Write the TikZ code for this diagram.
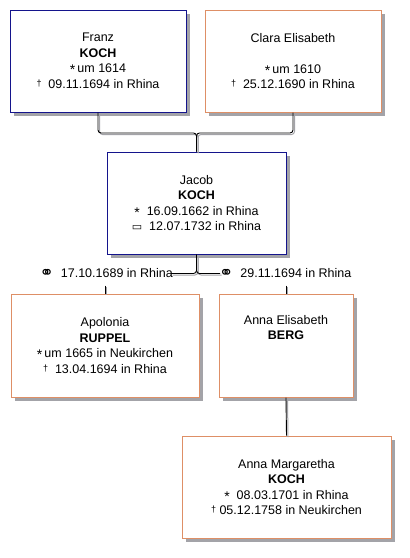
\documentclass[tikz,border=0pt]{standalone}
\usepackage{fontspec}
\setmainfont{Liberation Sans}
\newfontfamily\symfont{DejaVu Sans}
\definecolor{maleblue}{rgb}{0.08,0.08,0.55}
\definecolor{femorange}{rgb}{0.87,0.56,0.40}
\definecolor{shgr}{rgb}{0.64,0.64,0.66}
\newcommand{\birth}{\raisebox{-0.3ex}{\fontsize{14}{14}\selectfont *}}
\newcommand{\death}{\raisebox{0.3ex}{\fontsize{9}{9}\selectfont †}}
\newcommand{\burial}{{\symfont\fontsize{11}{11}\selectfont ▭}}
\newcommand{\marr}{\raisebox{-0.1ex}{\symfont\fontsize{17}{17}\selectfont ⚭}}
\newcommand{\twoline}[1]{%
  \begin{scope}[transform canvas={xshift=1.5pt,yshift=-1.5pt}]
    \draw[shline] #1;
  \end{scope}
  \draw[mainline] #1;}
\tikzset{
  person/.style={draw, line width=1pt, fill=white, align=center, inner sep=0pt,
    font=\fontsize{12.5}{15.5}\selectfont},
  male/.style={person, draw=maleblue},
  female/.style={person, draw=femorange},
  shadownode/.style={draw=shgr, fill=shgr, line width=2pt, inner sep=0pt},
  mainline/.style={draw=black, line width=0.9pt, rounded corners=3pt},
  shline/.style={draw=shgr, line width=1pt, rounded corners=3pt},
  marrlabel/.style={font=\fontsize{12.5}{15.5}\selectfont, inner sep=0pt}
}
\begin{document}
\begin{tikzpicture}[x=1pt,y=-1pt]
\useasboundingbox (0,0) rectangle (410,558);
% shadows
\node[shadownode, minimum width=174pt, minimum height=100pt] (franzsh) at (102,65) {};
\node[shadownode, minimum width=174pt, minimum height=100pt] (clarash) at (297,65) {};
\node[shadownode, minimum width=177pt, minimum height=100pt] (jacobsh) at (200.5,207) {};
\node[shadownode, minimum width=186pt, minimum height=101pt] (apoloniash) at (109,349.5) {};
\node[shadownode, minimum width=132pt, minimum height=101pt] (annaesh) at (290,349.5) {};
\node[shadownode, minimum width=207pt, minimum height=100pt] (annamsh) at (290.5,491) {};
% persons
\node[male, minimum width=176pt, minimum height=102pt] (franz) at (98,61)
  {Franz\\\textbf{KOCH}\\\birth\,um 1614\\\death\ \ 09.11.1694 in Rhina};
\node[female, minimum width=176pt, minimum height=102pt] (clara) at (293,61)
  {Clara Elisabeth\\\strut\\\birth\,um 1610\\\death\ \ 25.12.1690 in Rhina};
\node[male, minimum width=179pt, minimum height=102pt] (jacob) at (196.5,203)
  {Jacob\\\textbf{KOCH}\\\birth\ \ 16.09.1662 in Rhina\\\burial\ \ 12.07.1732 in Rhina};
\node[female, minimum width=188pt, minimum height=103pt] (apolonia) at (105,345.5)
  {Apolonia\\\textbf{RUPPEL}\\\birth\,um 1665 in Neukirchen\\\death\ \ 13.04.1694 in Rhina};
\node[female, minimum width=134pt, minimum height=103pt] (annae) at (286,345.5)
  {Anna Elisabeth\\\textbf{BERG}\\\strut\\\strut};
\node[female, minimum width=209pt, minimum height=102pt] (annam) at (286.5,487)
  {Anna Margaretha\\\textbf{KOCH}\\\birth\ \ 08.03.1701 in Rhina\\\death\ 05.12.1758 in Neukirchen};
\node[marrlabel, anchor=east] (m1) at (173,273.5) {\marr\ \ 17.10.1689 in Rhina};
\node[marrlabel, anchor=west] (m2) at (219,273.5) {\marr\ \ 29.11.1694 in Rhina};
\coordinate (topjoin) at (196.5,133);
\coordinate (botjoin) at (196.5,273.5);
% parents to Jacob
\twoline{(franz.south) -- (franz.south |- topjoin) -- (topjoin) -- (jacob.north)}
\twoline{(clara.south) -- (clara.south |- topjoin) -- (topjoin) -- (jacob.north)}
% Jacob to marriages
\twoline{(jacob.south) -- (botjoin) -- ([xshift=-2pt]m1.east)}
\twoline{(jacob.south) -- (botjoin) -- ([xshift=1pt]m2.west)}
% marriages to spouses
\twoline{([yshift=8pt]apolonia.north) -- (apolonia.north)}
\twoline{([yshift=8pt]annae.north) -- (annae.north)}
% child
\twoline{(annae.south) -- (annam.north)}
\end{tikzpicture}
\end{document}
